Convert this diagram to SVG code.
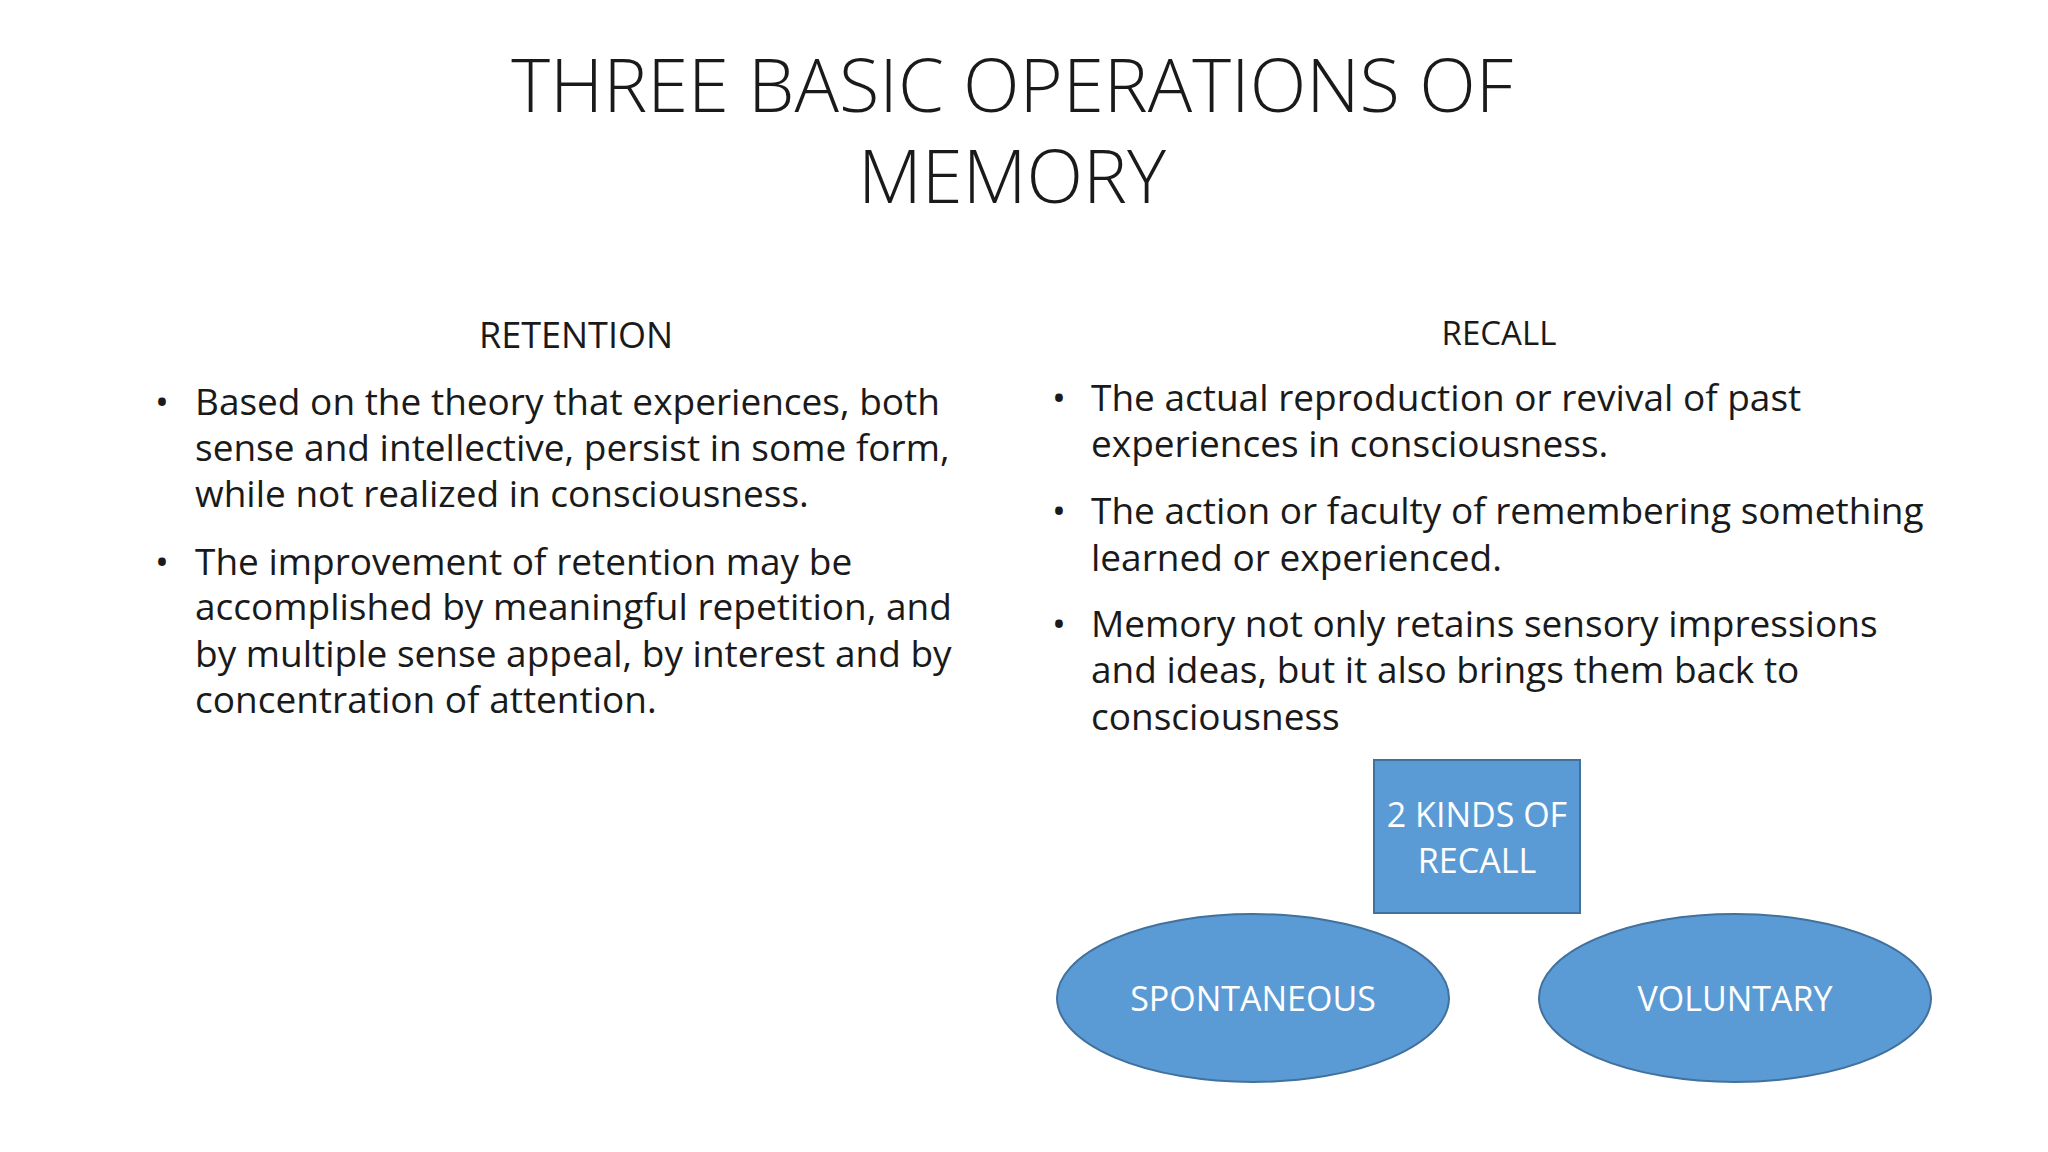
<svg xmlns="http://www.w3.org/2000/svg" width="2048" height="1152" viewBox="0 0 2048 1152">
<style>
text{font-family:"Open Sans","Liberation Sans",sans-serif;fill:#1a1a1a}
.t{font-size:74px;font-weight:300;text-anchor:middle}
.h{font-size:36px;text-anchor:middle}
.b{font-size:37px}
.w{fill:#fff;font-size:34px;text-anchor:middle}
.s{fill:#5B9BD5;stroke:#41719C;stroke-width:2}
</style>
<rect width="2048" height="1152" fill="#fff"/>
<g id="title"><text class="t" x="1012" y="112">THREE BASIC OPERATIONS OF</text><text class="t" x="1012" y="203">MEMORY</text></g>
<g id="retention">
<text class="h" x="576" y="348">RETENTION</text>
<text class="b" x="155" y="415">•</text>
<text class="b" x="195" y="415">Based on the theory that experiences, both</text>
<text class="b" x="195" y="461">sense and intellective, persist in some form,</text>
<text class="b" x="195" y="507">while not realized in consciousness.</text>
<text class="b" x="155" y="575">•</text>
<text class="b" x="195" y="575">The improvement of retention may be</text>
<text class="b" x="195" y="620">accomplished by meaningful repetition, and</text>
<text class="b" x="195" y="667">by multiple sense appeal, by interest and by</text>
<text class="b" x="195" y="713">concentration of attention.</text>
</g>
<g id="recall">
<text class="h" x="1499" y="345" style="font-size:33px">RECALL</text>
<text class="b" x="1052" y="411">•</text>
<text class="b" x="1091" y="411">The actual reproduction or revival of past</text>
<text class="b" x="1091" y="457">experiences in consciousness.</text>
<text class="b" x="1052" y="524">•</text>
<text class="b" x="1091" y="524">The action or faculty of remembering something</text>
<text class="b" x="1091" y="571">learned or experienced.</text>
<text class="b" x="1052" y="637">•</text>
<text class="b" x="1091" y="637">Memory not only retains sensory impressions</text>
<text class="b" x="1091" y="683">and ideas, but it also brings them back to</text>
<text class="b" x="1091" y="730">consciousness</text>
</g>
<g id="kinds"><rect class="s" x="1374" y="760" width="206" height="153"/><text class="w" x="1477" y="827">2 KINDS OF</text><text class="w" x="1477" y="873">RECALL</text></g>
<g id="spontaneous"><ellipse class="s" cx="1253" cy="998" rx="196" ry="84"/><text class="w" x="1253" y="1011">SPONTANEOUS</text></g>
<g id="voluntary"><ellipse class="s" cx="1735" cy="998" rx="196" ry="84"/><text class="w" x="1735" y="1011">VOLUNTARY</text></g>
<g id="connectors"/>
</svg>
